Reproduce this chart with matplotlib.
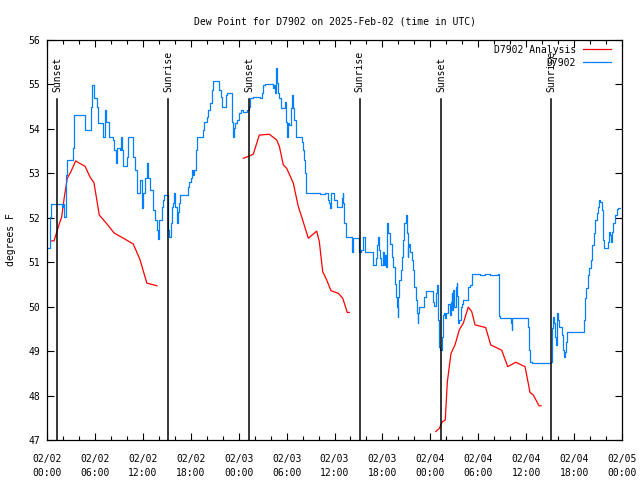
import matplotlib
matplotlib.use("Agg")
import matplotlib.pyplot as plt

# hours since 2025-02-02 00:00 UTC
obs_hours = [0.16, 0.38, 0.46, 1.84, 1.94, 2.04, 2.13, 2.38, 2.47, 3.17, 3.29, 3.42, 4.55, 4.76, 5.38,
             5.51, 5.60, 5.80, 5.92, 6.14, 6.30, 6.42, 6.97, 7.05, 7.26, 7.39, 7.68, 7.80, 8.23, 8.39,
             8.64, 8.80, 9.14, 9.27, 9.39, 9.55, 9.89, 10.06, 10.18, 10.52, 10.73, 11.02, 11.23, 11.56,
             11.65, 11.86, 11.93, 12.06, 12.27, 12.48, 12.56, 12.68, 12.90, 13.31, 13.52, 13.74, 13.94,
             14.06, 14.36, 14.56, 14.69, 14.99, 15.11, 15.19, 15.31, 15.49, 15.62, 15.82, 15.94, 16.03,
             16.24, 16.37, 16.53, 16.65, 17.49, 17.62, 17.78, 18.03, 18.12, 18.32, 18.44, 18.62, 18.75,
             19.37, 19.50, 19.70, 20.00, 20.20, 20.41, 20.62, 20.75, 21.45, 21.58, 21.79, 21.95, 22.20,
             22.38, 22.50, 22.70, 23.13, 23.25, 23.38, 23.54, 23.75, 24.04, 24.29, 24.58, 25.01, 25.29,
             25.42, 25.83, 26.67, 26.89, 27.09, 27.30, 28.14, 28.26, 28.43, 28.55, 28.64, 28.76, 28.84,
             28.96, 29.09, 29.26, 29.68, 29.80, 29.87, 29.93, 30.02, 30.14, 30.34, 30.52, 30.64, 30.77,
             30.84, 30.97, 31.14, 31.77, 31.89, 32.02, 32.18, 32.31, 32.43, 33.56, 34.19, 34.81, 35.23,
             35.35, 35.44, 35.52, 35.94, 36.28, 36.90, 37.03, 37.10, 37.23, 37.44, 38.03, 38.16, 38.28,
             38.36, 38.86, 39.07, 39.32, 39.61, 39.82, 40.66, 40.86, 41.07, 41.20, 41.29, 41.41, 41.58,
             41.70, 41.83, 42.04, 42.20, 42.33, 42.41, 42.54, 42.61, 42.74, 42.95, 43.16, 43.36, 43.58,
             43.70, 43.79, 43.92, 43.99, 44.11, 44.29, 44.49, 44.62, 44.74, 44.92, 45.04, 45.17, 45.24,
             45.37, 45.46, 45.67, 45.87, 45.99, 46.17, 46.30, 46.42, 46.50, 46.62, 47.12, 47.25, 47.42,
             48.17, 48.30, 48.46, 48.75, 48.87, 48.96, 49.09, 49.21, 49.43, 49.50, 49.62, 49.75, 49.84,
             49.96, 50.17, 50.25, 50.46, 50.59, 50.68, 50.75, 50.88, 51.00, 51.18, 51.30, 51.38, 51.50,
             51.63, 51.80, 51.93, 52.05, 52.55, 52.68, 52.75, 52.97, 53.18, 53.26, 54.22, 54.85, 55.47,
             56.51, 56.60, 56.73, 57.98, 58.11, 58.19, 58.27, 60.07, 60.19, 60.36, 60.48, 60.70, 63.11,
             63.20, 63.27, 63.40, 63.52, 63.61, 63.70, 63.82, 63.90, 64.03, 64.15, 64.36, 64.53, 64.62,
             64.70, 64.87, 65.00, 65.16, 67.16, 67.29, 67.37, 67.50, 67.71, 67.78, 67.91, 68.08, 68.28,
             68.50, 68.62, 68.83, 68.96, 69.12, 69.29, 69.46, 69.66, 69.79, 70.09, 70.21, 70.38, 70.50,
             70.63, 70.79, 70.92, 71.13, 71.34, 71.54, 71.75]
obs_dewpt = [51.31, 52.02, 52.31, 52.31, 52.25, 52.31, 52.02, 52.96, 53.30, 53.30, 53.56, 54.31, 54.31, 53.98, 53.98,
             54.50, 54.99, 54.99, 54.69, 54.69, 54.50, 54.13, 54.09, 53.82, 54.43, 54.16, 54.16, 53.82, 53.75, 53.52,
             53.23, 53.56, 53.52, 53.82, 53.52, 53.16, 53.16, 53.37, 53.82, 53.82, 53.37, 53.07, 52.55, 52.55,
             52.85, 52.70, 52.21, 52.55, 52.89, 52.89, 53.23, 52.89, 52.63, 52.17, 51.95, 51.72, 51.52,
             51.95, 52.25, 52.40, 52.51, 52.51, 52.33, 51.72, 51.57, 51.88, 52.25, 52.33, 52.55, 52.25,
             51.88, 52.14, 52.33, 52.51, 52.51, 52.70, 52.81, 52.89, 53.07, 52.96, 53.07, 53.52, 53.81,
             53.81, 53.97, 54.16, 54.27, 54.42, 54.59, 54.87, 55.08, 55.08, 54.87, 54.72, 54.50, 54.50,
             54.76, 54.80, 54.80, 54.16, 53.81, 54.01, 54.13, 54.20, 54.35, 54.42, 54.39, 54.42, 54.50,
             54.69, 54.71, 54.69, 54.80, 54.99, 55.01, 55.01, 54.91, 54.99, 54.80, 55.36, 55.21, 55.03,
             54.80, 54.69, 54.46, 54.46, 54.61, 54.46, 54.16, 53.82, 54.13, 54.09, 54.46, 54.76, 54.76,
             54.46, 54.20, 53.82, 53.82, 53.71, 53.52, 53.30, 53.00, 52.55, 52.55, 52.53, 52.55, 52.40,
             52.33, 52.21, 52.55, 52.40, 52.25, 52.44, 52.55, 52.33, 51.88, 51.57, 51.57, 51.24, 51.50,
             51.54, 51.54, 51.24, 51.28, 51.56, 51.24, 51.24, 50.94, 50.94, 51.09, 51.39, 51.57, 51.28,
             51.09, 50.94, 51.24, 50.94, 51.17, 50.90, 51.65, 51.88, 51.65, 51.42, 51.12, 50.90, 50.52,
             50.22, 49.99, 49.77, 50.22, 50.60, 50.83, 51.12, 51.50, 51.88, 52.06, 51.65, 51.12, 51.35,
             51.42, 51.24, 51.05, 50.83, 50.45, 50.15, 49.85, 49.63, 49.85, 49.99, 49.99, 50.22, 50.36,
             50.36, 50.11, 50.01, 50.30, 50.49, 49.70, 49.10, 49.02, 49.02, 49.32, 49.81, 49.85, 49.74,
             49.85, 49.89, 50.07, 49.81, 50.11, 50.30, 49.92, 50.37, 49.99, 50.45, 50.53, 50.23, 49.63,
             49.70, 50.00, 50.07, 50.15, 50.15, 50.26, 50.45, 50.49, 50.60, 50.73, 50.71, 50.73, 50.71,
             50.73, 49.78, 49.74, 49.74, 49.63, 49.47, 49.74, 49.74, 49.55, 49.02, 48.76, 48.73, 48.75,
             49.02, 49.51, 49.77, 49.63, 49.32, 49.14, 49.63, 49.85, 49.70, 49.55, 49.55, 49.36, 49.02,
             48.87, 48.99, 49.21, 49.44, 49.44, 49.70, 50.19, 50.41, 50.45, 50.71, 50.86, 51.06, 51.39,
             51.65, 51.95, 52.10, 52.25, 52.41, 52.36, 52.17, 51.50, 51.31, 51.31, 51.46, 51.69, 51.61,
             51.46, 51.69, 51.88, 52.06, 52.19, 52.21, 52.21]

# analysis runs, one per day
ana1_hours = [0.59, 0.88, 1.29, 1.63, 1.84, 2.17, 2.54, 3.00, 3.59, 4.13, 4.76, 5.38, 5.88, 6.55, 7.47,
              8.39, 9.76, 10.80, 11.64, 12.50, 13.77]
ana1_dewpt = [51.48, 51.48, 51.72, 51.91, 52.02, 52.47, 52.89, 53.04, 53.28, 53.22, 53.16, 52.92, 52.79, 52.06, 51.87,
              51.66, 51.52, 51.41, 51.06, 50.53, 50.47]
ana2_hours = [24.58, 25.21, 25.83, 26.58, 27.84, 28.76, 29.09, 29.59, 30.02, 30.84, 31.47, 31.89, 32.72, 33.77,
              34.10, 34.52, 35.02, 35.56, 36.48, 37.03, 37.60, 37.85]
ana2_dewpt = [53.34, 53.38, 53.43, 53.86, 53.88, 53.75, 53.61, 53.19, 53.11, 52.78, 52.25, 52.02, 51.54, 51.70,
              51.46, 50.79, 50.60, 50.36, 50.30, 50.19, 49.87, 49.87]
ana3_hours = [48.67, 49.12, 49.50, 49.87, 50.13, 50.59, 51.09, 51.63, 52.13, 52.75, 53.18, 53.60, 54.93, 55.56,
              56.94, 57.69, 58.69, 59.86, 60.48, 60.90, 61.61, 61.86]
ana3_dewpt = [47.19, 47.26, 47.41, 47.45, 48.31, 48.95, 49.14, 49.48, 49.63, 49.99, 49.89, 49.59, 49.53, 49.14,
              49.02, 48.65, 48.75, 48.65, 48.07, 48.01, 47.77, 47.77]

sun_hours = [1.30, 15.17, 25.32, 39.15, 49.35, 63.13]
sun_labels = ["Sunset", "Sunrise", "Sunset", "Sunrise", "Sunset", "Sunrise"]

tick_hours = list(range(0, 73, 6))
tick_labels = ["02/02\n00:00", "02/02\n06:00", "02/02\n12:00", "02/02\n18:00",
               "02/03\n00:00", "02/03\n06:00", "02/03\n12:00", "02/03\n18:00",
               "02/04\n00:00", "02/04\n06:00", "02/04\n12:00", "02/04\n18:00",
               "02/05\n00:00"]

plt.rcParams['font.family'] = ['DejaVu Sans Mono']
plt.rcParams['font.size'] = 7

fig = plt.figure(figsize=(6.4, 4.8), dpi=100)
ax = fig.add_axes([47 / 640, 40 / 480, 575 / 640, 400 / 480])

red = '#ff0000'
blue = '#0080ff'
ax.plot(ana1_hours, ana1_dewpt, color=red, lw=0.9, label='D7902 Analysis')
ax.plot(ana2_hours, ana2_dewpt, color=red, lw=0.9)
ax.plot(ana3_hours, ana3_dewpt, color=red, lw=0.9)
ax.plot(obs_hours, obs_dewpt, color=blue, lw=0.9, drawstyle='steps-post', label='D7902')

for h, lab in zip(sun_hours, sun_labels):
    ax.plot([h, h], [47, 54.67], color='black', lw=1.1)
    ax.text(h, 54.83, lab, rotation=90, ha='center', va='bottom', fontsize=7)

ax.set_xlim(0, 72)
ax.set_ylim(47, 56)
ax.set_xticks(tick_hours)
ax.set_xticklabels(tick_labels, linespacing=1.55, fontsize=7)
ax.set_xticks(range(0, 73, 2), minor=True)
ax.set_yticks(range(47, 57))
ax.tick_params(which='both', direction='in', top=True, right=True, width=0.8)
ax.tick_params(which='major', length=5)
ax.tick_params(which='minor', length=3)
ax.tick_params(axis='x', which='major', pad=10)
ax.tick_params(axis='y', which='major', pad=5)
for s in ax.spines.values():
    s.set_linewidth(0.9)

ax.set_title('Dew Point for D7902 on 2025-Feb-02 (time in UTC)', pad=11, fontsize=7)
ax.set_ylabel('degrees F', fontsize=7)
ax.yaxis.set_label_coords(-0.054, 0.5)

ax.legend(loc='upper right', bbox_to_anchor=(1 - 6 / 575, 1), frameon=False, markerfirst=False,
          handlelength=2.9, handletextpad=0.7, labelspacing=0.3, borderaxespad=0.3, borderpad=0.2,
          fontsize=7)

fig.savefig('out.png', dpi=100)
